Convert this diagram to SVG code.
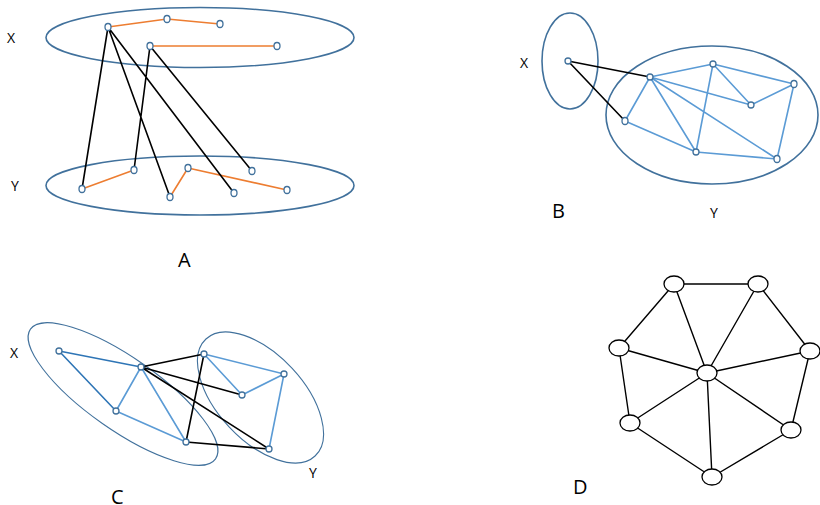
<svg xmlns="http://www.w3.org/2000/svg" width="820" height="505" viewBox="0 0 820 505">
<style>
.bg{fill:#fff}
.set{fill:none;stroke:#41719c;stroke-width:1.6}
.set2{fill:none;stroke:#41719c;stroke-width:1.1}
.n{fill:#fff;stroke:#41719c;stroke-width:1.3}
.dn{fill:#fff;stroke:#000;stroke-width:1.3}
.or{stroke:#ed7d31;stroke-width:1.6;fill:none}
.bk{stroke:#000;stroke-width:1.6;fill:none}
.lb{stroke:#5b9bd5;stroke-width:1.6;fill:none}
.db{stroke:#2e75b6;stroke-width:1.6;fill:none}
.dk{stroke:#000;stroke-width:1.4;fill:none}
.t{font-family:"Open Sans","Liberation Sans",sans-serif;font-size:14px;fill:#000}
.big{font-family:"Open Sans","Liberation Sans",sans-serif;font-size:20px;fill:#000}
</style>
<rect class="bg" x="0" y="0" width="820" height="505"/>
<g id="sets">
<ellipse class="set" cx="200" cy="37.5" rx="154" ry="30"/>
<ellipse class="set" cx="200" cy="185.5" rx="154" ry="29.5"/>
<ellipse class="set" cx="570" cy="61" rx="28" ry="48"/>
<ellipse class="set" cx="712" cy="115" rx="106" ry="69"/>
<ellipse class="set2" cx="123" cy="394" rx="113" ry="36" transform="rotate(35 123 394)"/>
<ellipse class="set2" cx="260.5" cy="397.5" rx="80" ry="43" transform="rotate(47 260.5 397.5)"/>
</g>
<g id="connectors">
<path class="or" d="M108 27L167 19M167 19L220 24M150 46L277 46M82 189L134 170M170 197L188 168M188 168L287 190"/>
<path class="bk" d="M108 27L82 189M108 27L170 197M108 27L234 193M150 46L134 170M150 46L252 171"/>
<path class="bk" d="M568 61L650 77M568 61L625 121"/>
<path class="lb" d="M650 77L713 64M713 64L794 84M650 77L751 105M713 64L751 105M751 105L794 84M650 77L625 121M650 77L696 152M650 77L777 159M713 64L696 152M625 121L696 152M696 152L777 159M777 159L794 84"/>
<path class="db" d="M59 351L141 367M59 351L116 411"/>
<path class="lb" d="M141 367L116 411M116 411L186 442M141 367L186 442M204 354L284 374M204 354L242 395M242 395L284 374M284 374L269 449"/>
<path class="bk" d="M141 367L204 354M141 367L242 395M141 367L269 449M204 354L186 442M186 442L269 449"/>
<path class="dk" d="M674 284L758 284M674 284L619 348M674 284L707 373M758 284L707 373M758 284L810 351M619 348L707 373M619 348L630 423M810 351L707 373M810 351L791 430M707 373L630 423M707 373L712 477M707 373L791 430M630 423L712 477M791 430L712 477"/>
</g>
<g id="nodes-A">
<ellipse class="n" cx="108" cy="27" rx="3" ry="3.5"/>
<ellipse class="n" cx="167" cy="19" rx="3" ry="3.5"/>
<ellipse class="n" cx="220" cy="24" rx="3" ry="3.5"/>
<ellipse class="n" cx="150" cy="46" rx="3" ry="3.5"/>
<ellipse class="n" cx="277" cy="46" rx="3" ry="3.5"/>
<ellipse class="n" cx="82" cy="189" rx="3" ry="3.5"/>
<ellipse class="n" cx="134" cy="170" rx="3" ry="3.5"/>
<ellipse class="n" cx="170" cy="197" rx="3" ry="3.5"/>
<ellipse class="n" cx="188" cy="168" rx="3" ry="3.5"/>
<ellipse class="n" cx="234" cy="193" rx="3" ry="3.5"/>
<ellipse class="n" cx="252" cy="171" rx="3" ry="3.5"/>
<ellipse class="n" cx="287" cy="190" rx="3" ry="3.5"/>
</g>
<g id="nodes-B">
<ellipse class="n" cx="568" cy="61" rx="3" ry="3"/>
<ellipse class="n" cx="650" cy="77" rx="3" ry="3"/>
<ellipse class="n" cx="713" cy="64" rx="3" ry="3"/>
<ellipse class="n" cx="794" cy="84" rx="3" ry="3.5"/>
<ellipse class="n" cx="751" cy="105" rx="3" ry="3"/>
<ellipse class="n" cx="625" cy="121" rx="3" ry="3.5"/>
<ellipse class="n" cx="696" cy="152" rx="3" ry="3"/>
<ellipse class="n" cx="777" cy="159" rx="3" ry="3.5"/>
</g>
<g id="nodes-C">
<ellipse class="n" cx="59" cy="351" rx="3" ry="3"/>
<ellipse class="n" cx="141" cy="367" rx="3" ry="3"/>
<ellipse class="n" cx="116" cy="411" rx="3" ry="3"/>
<ellipse class="n" cx="186" cy="442" rx="3" ry="3"/>
<ellipse class="n" cx="204" cy="354" rx="3" ry="3"/>
<ellipse class="n" cx="284" cy="374" rx="3" ry="3"/>
<ellipse class="n" cx="242" cy="395" rx="3" ry="3"/>
<ellipse class="n" cx="269" cy="449" rx="3" ry="3"/>
</g>
<g id="nodes-D">
<ellipse class="dn" cx="674" cy="284" rx="10" ry="8"/>
<ellipse class="dn" cx="758" cy="284" rx="10" ry="8"/>
<ellipse class="dn" cx="619" cy="348" rx="10" ry="8"/>
<ellipse class="dn" cx="810" cy="351" rx="10" ry="8"/>
<ellipse class="dn" cx="707" cy="373" rx="10" ry="8"/>
<ellipse class="dn" cx="630" cy="423" rx="10" ry="8"/>
<ellipse class="dn" cx="791" cy="430" rx="10" ry="8"/>
<ellipse class="dn" cx="712" cy="477" rx="10" ry="8"/>
</g>
<g id="labels">
<text class="t" x="7" y="43">X</text>
<text class="t" x="11" y="191">Y</text>
<text class="big" x="178" y="267">A</text>
<text class="t" x="520" y="68">X</text>
<text class="t" x="710" y="218">Y</text>
<text class="big" x="552" y="218">B</text>
<text class="t" x="10" y="358">X</text>
<text class="t" x="309" y="478">Y</text>
<text class="big" x="111" y="504">C</text>
<text class="big" x="573" y="494">D</text>
</g>
</svg>
